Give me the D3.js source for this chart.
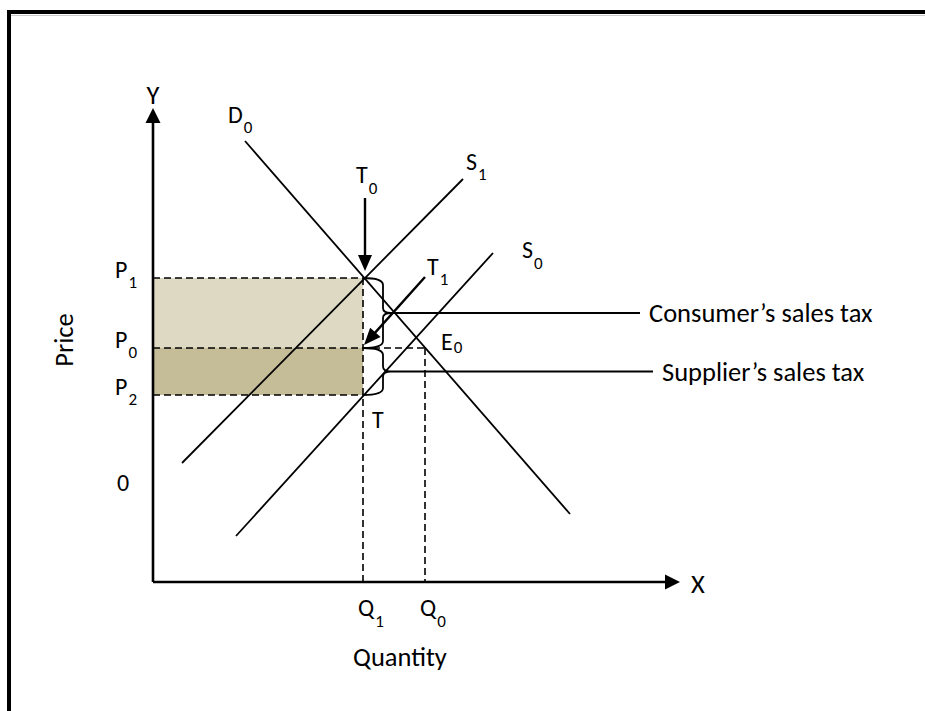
<!DOCTYPE html>
<html>
<head>
<meta charset="utf-8">
<script src="https://cdn.jsdelivr.net/npm/d3@7/dist/d3.min.js"></script>
<style>
  html, body { margin: 0; padding: 0; background: #fff; }
  svg { display: block; }
  text { font-family: Carlito, Lato, "Open Sans", sans-serif; fill: #000; }
</style>
</head>
<body>
<svg id="chart" width="925" height="711"></svg>
<script>
// ---------- data (in abstract quantity / price units) ----------
const priceLevels = [
  { name: "P", sub: "1", value: 6.08 },
  { name: "P", sub: "0", value: 4.68 },
  { name: "P", sub: "2", value: 3.74 }
];
const quantityLevels = [
  { name: "Q", sub: "1", value: 4.20 },
  { name: "Q", sub: "0", value: 5.44 }
];
const demandD0 = [[1.84, 8.82], [8.34, 1.36]];
const supplyS1 = [[0.58, 2.38], [6.20, 8.06]];
const supplyS0 = [[1.66, 0.92], [6.80, 6.58]];
const arrowT0 = [[4.24, 7.68], [4.24, 6.22]];
const arrowT1 = [[5.44, 6.10], [4.22, 4.74]];
const calloutText = ["Consumer’s sales tax", "Supplier’s sales tax"];
const calloutEnd = [9.74, 10.0];
const axisMax = { x: 10.54, y: 9.48 };

// ---------- scales ----------
const svg = d3.select("#chart");
const x = d3.scaleLinear().domain([0, 10]).range([153, 653]);
const y = d3.scaleLinear().domain([0, 10]).range([582, 82]);

// frame
svg.append("line").attr("x1", 9).attr("y1", 15.5).attr("x2", 925).attr("y2", 15.5)
  .attr("stroke", "#ccc").attr("stroke-width", 1);
svg.append("rect").attr("x", 9).attr("y", 12).attr("width", 940).attr("height", 740)
  .attr("fill", "none").attr("stroke", "#000").attr("stroke-width", 4);

const [P1, P0, P2] = priceLevels.map(d => d.value);
const [Q1, Q0] = quantityLevels.map(d => d.value);

// shaded areas
svg.append("rect").attr("x", x(0)).attr("y", y(P1)).attr("width", x(Q1) - x(0))
  .attr("height", y(P0) - y(P1)).attr("fill", "#ddd9c3");
svg.append("rect").attr("x", x(0)).attr("y", y(P0)).attr("width", x(Q1) - x(0))
  .attr("height", y(P2) - y(P0)).attr("fill", "#c4bd97");

// dashed guides
const dash = g => g.attr("stroke", "#000").attr("stroke-width", 1.6).attr("stroke-dasharray", "7,4").attr("fill", "none");
const guides = [
  [[0, P1], [Q1, P1]],
  [[0, P0], [Q0, P0]],
  [[0, P2], [Q1, P2]],
  [[Q1, P1], [Q1, 0]],
  [[Q0, P0], [Q0, 0]]
];
const lineGen = d3.line().x(d => x(d[0])).y(d => y(d[1]));
guides.forEach(g => svg.append("path").attr("d", lineGen(g)).call(dash));

// curves
[demandD0, supplyS1, supplyS0].forEach(c =>
  svg.append("path").attr("d", lineGen(c)).attr("stroke", "#000").attr("stroke-width", 1.8).attr("fill", "none"));

// arrows helper
function arrow(p0, p1, len, half, width) {
  const x0 = x(p0[0]), y0 = y(p0[1]), x1 = x(p1[0]), y1 = y(p1[1]);
  const dx = x1 - x0, dy = y1 - y0, L = Math.hypot(dx, dy);
  const ux = dx / L, uy = dy / L, nx = -uy, ny = ux;
  const bx = x1 - ux * len, by = y1 - uy * len;
  svg.append("line").attr("x1", x0).attr("y1", y0).attr("x2", bx + ux * 2).attr("y2", by + uy * 2)
    .attr("stroke", "#000").attr("stroke-width", width);
  svg.append("path")
    .attr("d", `M${x1},${y1}L${bx + nx * half},${by + ny * half}L${bx - nx * half},${by - ny * half}Z`)
    .attr("fill", "#000");
}

// axes
arrow([0, 0], [0, axisMax.y], 15, 7.5, 2.6);
arrow([0, 0], [axisMax.x, 0], 15, 7.5, 2.6);

// tax arrows
arrow(arrowT0[0], arrowT0[1], 16, 7, 2.4);
arrow(arrowT1[0], arrowT1[1], 17, 7, 2.4);

// braces
function brace(q, top, bottom) {
  const bx = x(q), y0 = y(top), y1 = y(bottom), m = (y0 + y1) / 2, w = 20;
  const p = `M${bx},${y0} Q${bx + w},${y0} ${bx + w},${y0 + 7} L${bx + w},${m - 5} Q${bx + w},${m} ${bx + w + 8},${m} ` +
            `Q${bx + w},${m} ${bx + w},${m + 5} L${bx + w},${y1 - 7} Q${bx + w},${y1} ${bx},${y1}`;
  svg.append("path").attr("d", p).attr("fill", "none").attr("stroke", "#000").attr("stroke-width", 1.8);
  return { tipX: bx + w + 8, tipY: m };
}
const b1 = brace(Q1, P1, P0);
const b2 = brace(Q1, P0, P2);

// callouts
[b1, b2].forEach((b, i) => {
  svg.append("line").attr("x1", b.tipX).attr("y1", b.tipY).attr("x2", x(calloutEnd[i])).attr("y2", b.tipY)
    .attr("stroke", "#000").attr("stroke-width", 1.8);
  svg.append("text").attr("x", x(calloutEnd[i]) + 9).attr("y", b.tipY + 9)
    .attr("font-size", 26.5).text(calloutText[i]);
});

// labels with subscripts
function label(px, py, main, sub, size, subDy, anchor) {
  const t = svg.append("text").attr("x", px).attr("y", py).attr("font-size", size)
    .attr("text-anchor", anchor || "start");
  t.append("tspan").text(main);
  if (sub) t.append("tspan").attr("font-size", 17).attr("dy", subDy).attr("dx", 1).text(sub);
}

priceLevels.forEach(d => label(x(0) - 38, y(d.value), d.name, d.sub, 24, 10));
quantityLevels.forEach(d => label(x(d.value) - 5, 616, d.name, d.sub, 24, 11));

label(x(demandD0[0][0]) - 17, 123, "D", "0", 24, 10);
label(x(supplyS1[1][0]) + 3, 170, "S", "1", 24, 10);
label(x(supplyS0[1][0]) + 29, 258, "S", "0", 24, 11);
label(x(arrowT0[0][0]) - 9, 183, "T", "0", 24, 11);
label(x(arrowT1[0][0]) + 2, 275, "T", "1", 24, 10);
label(x(Q0) + 16, 350, "E", "0", 24, 3);
label(x(Q1) + 9, 428, "T", null, 24, 0);
label(x(0) - 36, 491, "0", null, 24, 0);

label(x(0), 104, "Y", null, 26.5, 0, "middle");
label(x(axisMax.x) + 11, 593, "X", null, 26.5, 0, "start");
label(400, 666, "Quantity", null, 26.5, 0, "middle");
svg.append("text").attr("transform", "translate(73,340) rotate(-90)")
  .attr("text-anchor", "middle").attr("font-size", 26.5).text("Price");
</script>
</body>
</html>
